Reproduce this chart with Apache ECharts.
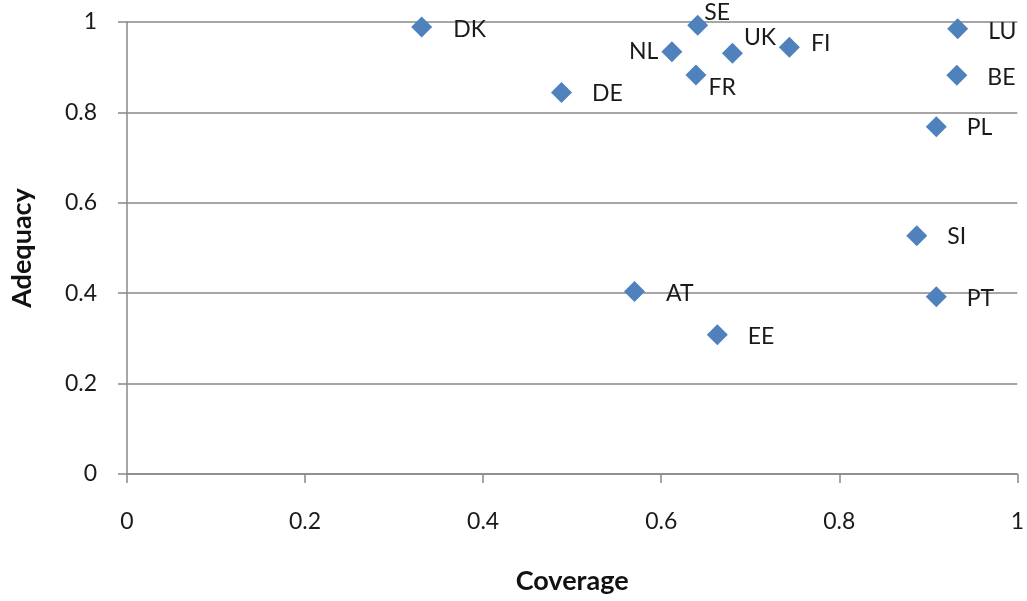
<!DOCTYPE html>
<html>
<head>
<meta charset="utf-8">
<script src="https://cdn.jsdelivr.net/npm/echarts@6/dist/echarts.min.js"></script>
<style>
html,body{margin:0;padding:0;background:#fff;}
#chart{width:1027px;height:601px;}
</style>
</head>
<body>
<div id="chart"></div>
<script>
var countries = ['DK','SE','NL','UK','FI','FR','DE','LU','BE','PL','SI','PT','AT','EE'];
var coverage  = [0.331,0.641,0.612,0.680,0.744,0.639,0.488,0.933,0.932,0.909,0.887,0.909,0.570,0.663];
var adequacy  = [0.989,0.993,0.934,0.931,0.944,0.883,0.844,0.985,0.882,0.768,0.527,0.392,0.404,0.308];
var axisTicks = [0,0.2,0.4,0.6,0.8,1];

var labelTweaks = {
  DK:{offset:[1,3]}, SE:{offset:[-24,-13]}, NL:{position:'left',distance:3,offset:[0,0]},
  UK:{offset:[-19,-16]}, FI:{offset:[-9,-4]}, FR:{offset:[-18,13]}, DE:{offset:[0,1]},
  LU:{offset:[0,3]}, BE:{offset:[0,2]}, PL:{offset:[0,1]}, SI:{offset:[0,1]},
  PT:{offset:[0,2]}, AT:{offset:[1,2]}, EE:{offset:[0,2]}
};

var data = countries.map(function(c,i){
  var t = labelTweaks[c] || {};
  return {
    name: c,
    value: [coverage[i], adequacy[i]],
    label: {
      show: true,
      position: t.position || 'right',
      distance: t.distance != null ? t.distance : 20,
      offset: t.offset || [0,0]
    }
  };
});

var fontFam = 'Lato, "Open Sans", sans-serif';
var chart = echarts.init(document.getElementById('chart'), null, {renderer:'canvas'});
chart.setOption({
  animation: false,
  backgroundColor: '#ffffff',
  grid: {left:127, right:9, top:22, bottom:127, containLabel:false},
  xAxis: {
    type:'value', min:0, max:1, interval:0.2,
    name:'Coverage', nameLocation:'middle', nameGap:94,
    nameTextStyle:{fontFamily:fontFam, fontSize:27, fontWeight:'bold', color:'#111'},
    axisLine:{show:true, lineStyle:{color:'#888888', width:1.5}},
    axisTick:{show:true, inside:false, length:9, lineStyle:{color:'#888888', width:1.5}},
    splitLine:{show:false},
    axisLabel:{margin:36, fontFamily:fontFam, fontSize:23, color:'#1a1a1a',
      formatter:function(v){ var s=axisTicks.indexOf(Math.round(v*10)/10); return s>=0 ? String(axisTicks[s]) : ''; }}
  },
  yAxis: {
    type:'value', min:0, max:1, interval:0.2,
    name:'Adequacy', nameLocation:'middle', nameGap:91,
    nameTextStyle:{fontFamily:fontFam, fontSize:27, fontWeight:'bold', color:'#111'},
    axisLine:{show:true, lineStyle:{color:'#888888', width:1.5}},
    axisTick:{show:true, inside:false, length:9, lineStyle:{color:'#888888', width:1.5}},
    splitLine:{show:true, lineStyle:{color:'#888888', width:1.5}},
    axisLabel:{margin:30, fontFamily:fontFam, fontSize:23, color:'#1a1a1a',
      formatter:function(v){ var s=axisTicks.indexOf(Math.round(v*10)/10); return s>=0 ? String(axisTicks[s]) : ''; }}
  },
  series: [{
    type:'scatter',
    symbol:'diamond',
    symbolSize:21,
    itemStyle:{color:'#4F81BD', opacity:1},
    label:{show:true, formatter:'{b}', fontFamily:fontFam, fontSize:23, color:'#1a1a1a'},
    data: data
  }]
});
</script>
</body>
</html>
